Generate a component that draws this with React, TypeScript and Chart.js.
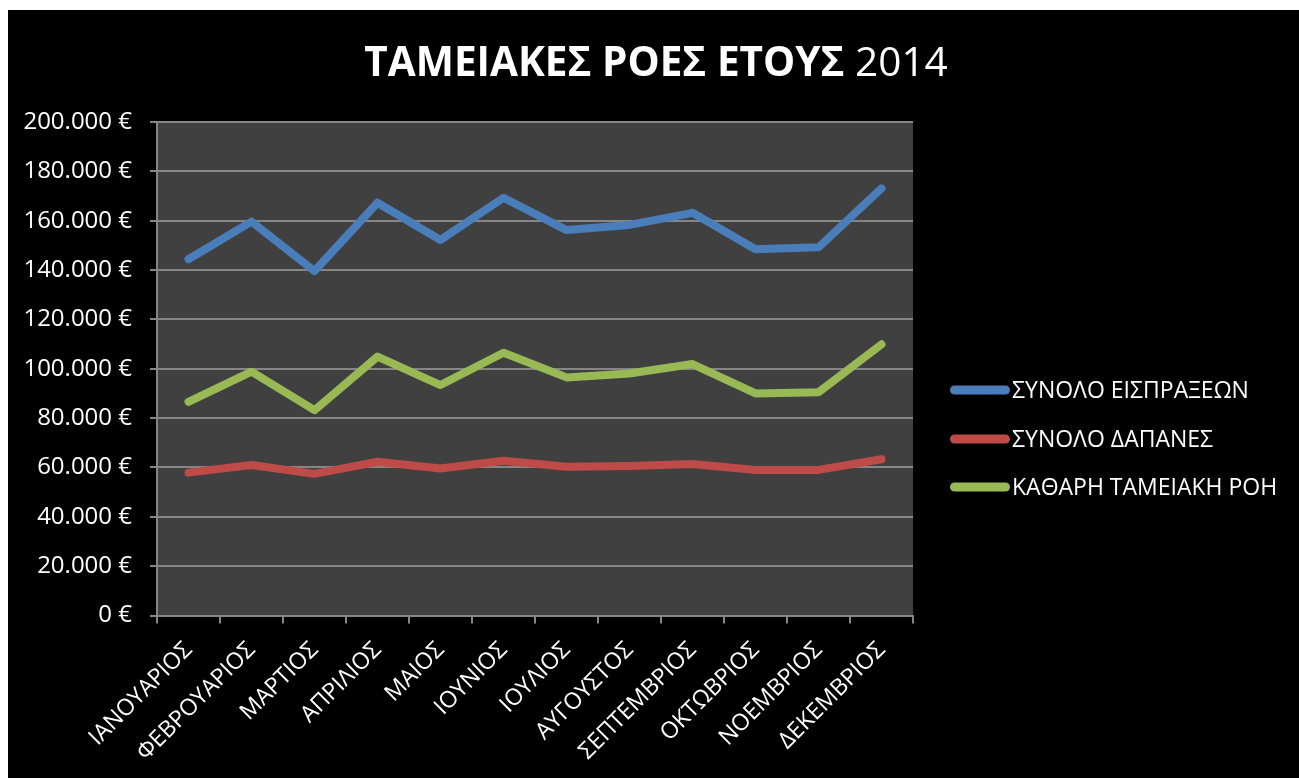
import React, { useEffect, useRef } from "react";
import { Chart, registerables } from "chart.js";

Chart.register(...registerables);

const months = [
  "ΙΑΝΟΥΑΡΙΟΣ", "ΦΕΒΡΟΥΑΡΙΟΣ", "ΜΑΡΤΙΟΣ", "ΑΠΡΙΛΙΟΣ", "ΜΑΙΟΣ", "ΙΟΥΝΙΟΣ",
  "ΙΟΥΛΙΟΣ", "ΑΥΓΟΥΣΤΟΣ", "ΣΕΠΤΕΜΒΡΙΟΣ", "ΟΚΤΩΒΡΙΟΣ", "ΝΟΕΜΒΡΙΟΣ", "ΔΕΚΕΜΒΡΙΟΣ",
];

const receipts = [144400, 159600, 139600, 167300, 152200, 169300, 156200, 158300, 163200, 148400, 149200, 173100];
const expenses = [57900, 61000, 57400, 62300, 59600, 62700, 60300, 60600, 61400, 59000, 59000, 63300];
const netFlow = [86600, 98800, 83200, 104900, 93400, 106500, 96500, 98100, 101900, 90000, 90500, 109900];

const seriesNames = ["ΣΥΝΟΛΟ ΕΙΣΠΡΑΞΕΩΝ", "ΣΥΝΟΛΟ ΔΑΠΑΝΕΣ", "ΚΑΘΑΡΗ ΤΑΜΕΙΑΚΗ ΡΟΗ"];
const seriesColors = ["#4a7ebb", "#be4b48", "#98b954"];

const titleBold = "ΤΑΜΕΙΑΚΕΣ ΡΟΕΣ ΕΤΟΥΣ ";
const titleRegular = "2014";

const yMin = 0;
const yMax = 200000;
const yStep = 20000;

const FONT = "'Open Sans', 'DejaVu Sans', sans-serif";
const GRID = "#868686";

function formatEuro(v: number): string {
  const s = String(Math.round(v)).replace(/\B(?=(\d{3})+(?!\d))/g, ".");
  return s + " €";
}

const plotBgPlugin = {
  id: "plotBg",
  beforeDraw(chart: any) {
    const { ctx, chartArea } = chart;
    ctx.save();
    ctx.fillStyle = "#404040";
    ctx.fillRect(chartArea.left, chartArea.top, chartArea.right - chartArea.left, chartArea.bottom - chartArea.top);
    ctx.restore();
  },
};

const titlePlugin = {
  id: "mixedTitle",
  afterDraw(chart: any) {
    const { ctx } = chart;
    ctx.save();
    ctx.fillStyle = "#ffffff";
    ctx.textBaseline = "alphabetic";
    ctx.textAlign = "left";
    const boldFont = `bold 40.5px ${FONT}`;
    const regFont = `40.5px ${FONT}`;
    ctx.font = boldFont;
    const wb = ctx.measureText(titleBold).width;
    ctx.font = regFont;
    const wr = ctx.measureText(titleRegular).width;
    const cx = 648;
    const x0 = cx - (wb + wr) / 2;
    const y = 66;
    ctx.font = boldFont;
    ctx.fillText(titleBold, x0, y);
    ctx.font = regFont;
    ctx.fillText(titleRegular, x0 + wb, y);
    ctx.restore();
  },
};

const legendPlugin = {
  id: "sideLegend",
  afterDraw(chart: any) {
    const { ctx, chartArea } = chart;
    const ys = [380, 429, 477];
    ctx.save();
    chart.data.datasets.forEach((ds: any, i: number) => {
      const x0 = chartArea.right + 37;
      const y = ys[i];
      ctx.strokeStyle = ds.borderColor;
      ctx.lineWidth = 9;
      ctx.lineCap = "round";
      ctx.beginPath();
      ctx.moveTo(x0 + 4.5, y);
      ctx.lineTo(x0 + 55.5, y);
      ctx.stroke();
      ctx.fillStyle = "#ffffff";
      ctx.font = `23px ${FONT}`;
      ctx.textBaseline = "middle";
      ctx.textAlign = "left";
      ctx.fillText(ds.label, x0 + 62, y + 1);
    });
    ctx.restore();
  },
};

export default function App() {
  const canvasRef = useRef<HTMLCanvasElement | null>(null);

  useEffect(() => {
    const canvas = canvasRef.current;
    if (!canvas) return;
    const values = [receipts, expenses, netFlow];
    const chart = new Chart(canvas, {
      type: "line",
      data: {
        labels: months,
        datasets: values.map((arr, i) => ({
          label: seriesNames[i],
          data: arr,
          borderColor: seriesColors[i],
          backgroundColor: seriesColors[i],
          borderWidth: 8,
          borderCapStyle: "round",
          borderJoinStyle: "round",
          pointRadius: 0,
          tension: 0,
          fill: false,
        })),
      },
      options: {
        animation: false,
        responsive: false,
        maintainAspectRatio: false,
        devicePixelRatio: 1,
        layout: { padding: { top: 112, right: 386, left: 0, bottom: 0 } },
        plugins: {
          legend: { display: false },
          title: { display: false },
          tooltip: { enabled: false },
        },
        scales: {
          x: {
            offset: true,
            grid: {
              offset: true,
              drawOnChartArea: false,
              drawTicks: true,
              tickLength: 8,
              color: GRID,
              lineWidth: 2,
            },
            border: { color: GRID, width: 2 },
            ticks: {
              color: "#ffffff",
              font: { family: FONT, size: 23 },
              minRotation: 45,
              maxRotation: 45,
              autoSkip: false,
              padding: 13,
            },
            afterFit: (s: any) => {
              s.height = 162.5;
            },
          },
          y: {
            min: yMin,
            max: yMax,
            ticks: {
              stepSize: yStep,
              color: "#ffffff",
              font: { family: FONT, size: 24 },
              padding: 18,
              callback: (v: any) => formatEuro(Number(v)),
            },
            grid: { color: GRID, lineWidth: 2, tickLength: 7 },
            border: { color: GRID, width: 2 },
            afterFit: (s: any) => {
              s.width = 149;
            },
          },
        },
      },
      plugins: [plotBgPlugin, titlePlugin, legendPlugin],
    } as any);
    return () => chart.destroy();
  }, []);

  return (
    <div
      style={{
        position: "absolute",
        left: 8,
        top: 10,
        width: 1291,
        height: 768,
        background: "#000000",
      }}
    >
      <canvas ref={canvasRef} width={1291} height={768} style={{ display: "block" }} />
    </div>
  );
}
